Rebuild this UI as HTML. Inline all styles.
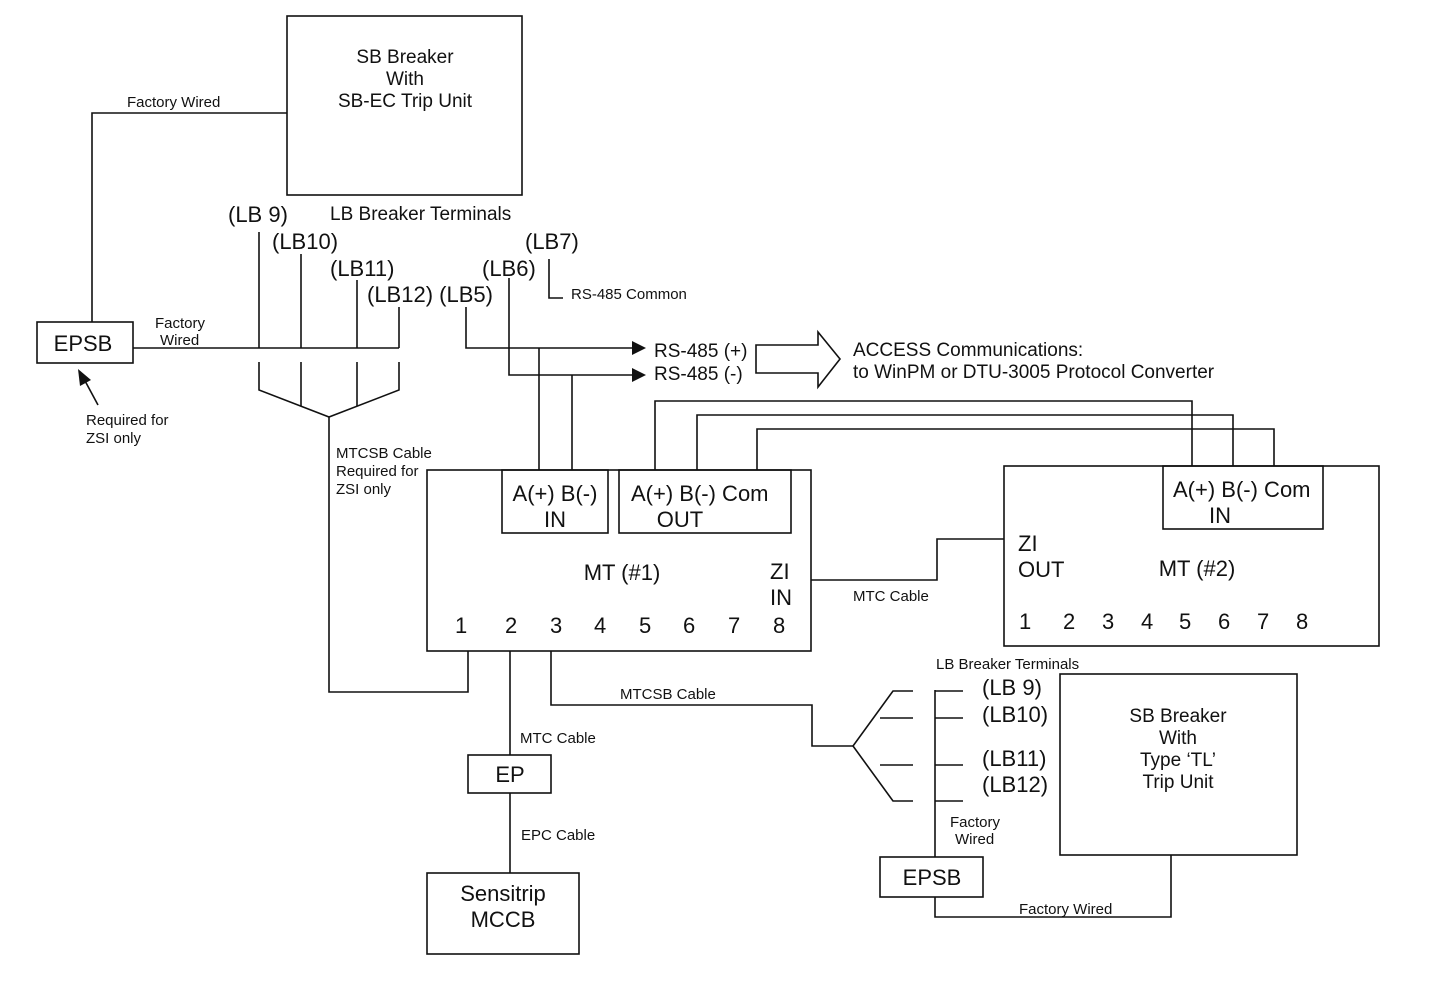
<!DOCTYPE html>
<html><head><meta charset="utf-8"><style>
html,body{margin:0;padding:0;background:#fff}
svg{display:block}
text{font-family:"Liberation Sans",Arial,sans-serif;fill:#111}
.s{font-size:15px}.m{font-size:19px}.b{font-size:22px}
</style></head><body>
<svg width="1434" height="1004" viewBox="0 0 1434 1004" xmlns="http://www.w3.org/2000/svg">
<g fill="none" stroke="#111" stroke-width="1.6">
<rect x="287" y="16" width="235" height="179"/>
<polyline points="92,322 92,113 287,113"/>
<rect x="37" y="322" width="96" height="41"/>
<line x1="133" y1="348" x2="399" y2="348"/>
<line x1="259" y1="232" x2="259" y2="348"/>
<line x1="301" y1="254" x2="301" y2="348"/>
<line x1="357" y1="280" x2="357" y2="348"/>
<line x1="399" y1="307" x2="399" y2="348"/>
<polyline points="259,362 259,390 329,417 399,390 399,362"/>
<line x1="301" y1="362" x2="301" y2="406"/>
<line x1="357" y1="362" x2="357" y2="406"/>
<polyline points="329,417 329,692 468,692 468,651"/>
<polyline points="549,259 549,298 563,298"/>
<polyline points="466,307 466,348 634,348"/>
<polyline points="509,278 509,375 634,375"/>
<line x1="539" y1="348" x2="539" y2="470"/>
<line x1="572" y1="375" x2="572" y2="470"/>
<polygon points="756,345 818,345 818,332 840,359 818,387 818,373 756,373"/>
<rect x="427" y="470" width="384" height="181"/>
<rect x="502" y="470" width="106" height="63"/>
<rect x="619" y="470" width="172" height="63"/>
<polyline points="655,470 655,401 1192,401 1192,466"/>
<polyline points="697,470 697,415 1233,415 1233,466"/>
<polyline points="757,470 757,429 1274,429 1274,466"/>
<rect x="1004" y="466" width="375" height="180"/>
<rect x="1163" y="466" width="160" height="63"/>
<polyline points="811,580 937,580 937,539 1004,539"/>
<line x1="510" y1="651" x2="510" y2="755"/>
<rect x="468" y="755" width="83" height="38"/>
<line x1="510" y1="793" x2="510" y2="873"/>
<rect x="427" y="873" width="152" height="81"/>
<polyline points="551,651 551,705 812,705 812,746 853,746"/>
<polyline points="913,691 893,691 853,746 893,801 913,801"/>
<line x1="880" y1="718" x2="913" y2="718"/>
<line x1="880" y1="765" x2="913" y2="765"/>
<line x1="935" y1="690" x2="935" y2="857"/>
<line x1="935" y1="691" x2="963" y2="691"/>
<line x1="935" y1="718" x2="963" y2="718"/>
<line x1="935" y1="765" x2="963" y2="765"/>
<line x1="935" y1="801" x2="963" y2="801"/>
<rect x="1060" y="674" width="237" height="181"/>
<rect x="880" y="857" width="103" height="40"/>
<polyline points="935,897 935,917 1171,917 1171,855"/>
<line x1="98" y1="405" x2="84" y2="379"/>
</g>
<g fill="#111">
<polygon points="632,341 646,348 632,355"/>
<polygon points="632,368 646,375 632,382"/>
<polygon points="78,369 91,380 80,386"/>
</g>
<g text-anchor="middle" class="m">
<text x="405" y="63">SB Breaker</text><text x="405" y="85">With</text><text x="405" y="107">SB-EC Trip Unit</text>
<text x="1178" y="722">SB Breaker</text><text x="1178" y="744">With</text><text x="1178" y="766">Type ‘TL’</text><text x="1178" y="788">Trip Unit</text>
</g>
<g text-anchor="middle" class="b">
<text x="83" y="351">EPSB</text>
<text x="555" y="501">A(+) B(-)</text><text x="555" y="527">IN</text>
<text x="680" y="527">OUT</text>
<text x="622" y="580">MT (#1)</text>
<text x="1197" y="576">MT (#2)</text>
<text x="1220" y="523">IN</text>
<text x="510" y="782">EP</text>
<text x="503" y="901">Sensitrip</text><text x="503" y="927">MCCB</text>
<text x="932" y="885">EPSB</text>
</g>
<g class="b">
<text x="228" y="222">(LB 9)</text>
<text x="272" y="249">(LB10)</text>
<text x="330" y="276">(LB11)</text>
<text x="367" y="302">(LB12) (LB5)</text>
<text x="482" y="276">(LB6)</text>
<text x="525" y="249">(LB7)</text>
<text x="631" y="501">A(+) B(-)  Com</text>
<text x="770" y="579">ZI</text><text x="770" y="605">IN</text>
<text x="1018" y="551">ZI</text><text x="1018" y="577">OUT</text>
<text x="1173" y="497">A(+) B(-) Com</text>
<text x="455" y="633">1</text><text x="505" y="633">2</text><text x="550" y="633">3</text><text x="594" y="633">4</text><text x="639" y="633">5</text><text x="683" y="633">6</text><text x="728" y="633">7</text><text x="773" y="633">8</text>
<text x="1019" y="629">1</text><text x="1063" y="629">2</text><text x="1102" y="629">3</text><text x="1141" y="629">4</text><text x="1179" y="629">5</text><text x="1218" y="629">6</text><text x="1257" y="629">7</text><text x="1296" y="629">8</text>
<text x="982" y="695">(LB 9)</text><text x="982" y="722">(LB10)</text><text x="982" y="766">(LB11)</text><text x="982" y="792">(LB12)</text>
</g>
<g class="m">
<text x="330" y="220">LB Breaker Terminals</text>
<text x="654" y="357">RS-485 (+)</text>
<text x="654" y="380">RS-485 (-)</text>
<text x="853" y="356">ACCESS Communications:</text>
<text x="853" y="378">to WinPM or DTU-3005 Protocol Converter</text>
</g>
<g class="s">
<text x="127" y="107">Factory Wired</text>
<text x="155" y="328">Factory</text><text x="160" y="345">Wired</text>
<text x="571" y="299">RS-485 Common</text>
<text x="86" y="425">Required for</text><text x="86" y="443">ZSI only</text>
<text x="336" y="458">MTCSB Cable</text><text x="336" y="476">Required for</text><text x="336" y="494">ZSI only</text>
<text x="853" y="601">MTC Cable</text>
<text x="620" y="699">MTCSB Cable</text>
<text x="520" y="743">MTC Cable</text>
<text x="521" y="840">EPC Cable</text>
<text x="936" y="669">LB Breaker Terminals</text>
<text x="950" y="827">Factory</text><text x="955" y="844">Wired</text>
<text x="1019" y="914">Factory Wired</text>
</g>
</svg>
</body></html>
